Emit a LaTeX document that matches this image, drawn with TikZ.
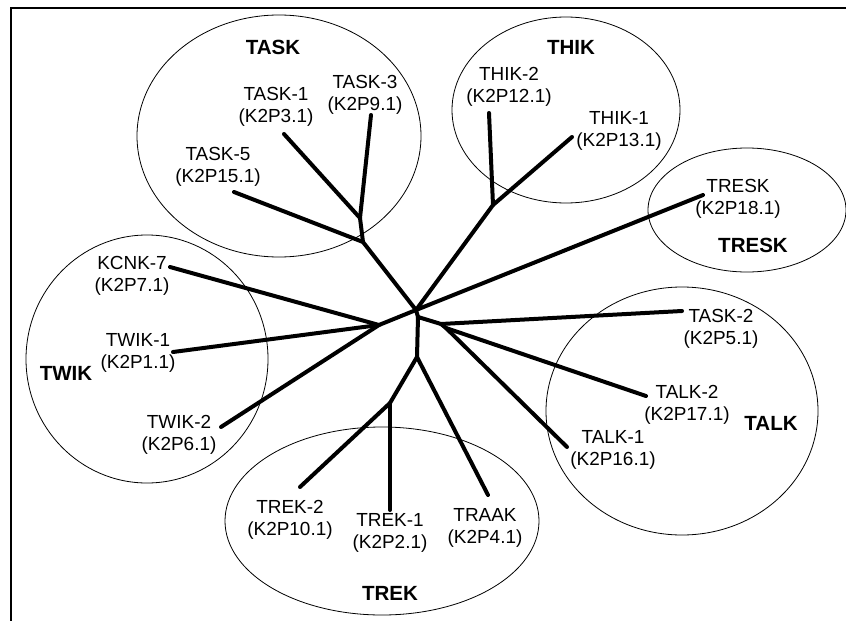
\documentclass[tikz,border=0pt]{standalone}
\usepackage{fontspec}
\setmainfont{Liberation Sans}
\usepackage{tikz}
\usetikzlibrary{calc,positioning}
\tikzset{%
	branch/.style = {line width=3pt, line cap=round, line join=round},
	family/.style = {line width=0.6pt},
	leaf/.style   = {align=center, inner sep=0pt, font=\fontsize{14.2}{16.5}\selectfont},
	clade/.style  = {inner sep=0pt, font=\fontsize{15.4}{18}\selectfont\bfseries},
	frame/.style  = {line width=1.5pt},
}
\begin{document}
\begin{tikzpicture}[x=0.75pt,y=-0.75pt]
	\useasboundingbox (0,0) rectangle (846,621);
	\draw[frame] (10.5,621) -- (10.5,8) -- (846,8);  % frame
	% families
	\draw[family] (279,136) ellipse (142 and 121);  % TASK
	\draw[family] (566,110) ellipse (114 and 93);   % THIK
	\draw[family] (747,210) ellipse (99 and 62);    % TRESK
	\draw[family] (147,359) ellipse (121 and 124);  % TWIK
	\draw[family] (682,411) ellipse (136 and 124);  % TALK
	\draw[family] (382,521) ellipse (157 and 94);   % TREK
	\node[clade] (TASK)  at (273,47)  {TASK};
	\node[clade] (THIK)  at (571,47)  {THIK};
	\node[clade] (TRESK) at (753,245) {TRESK};
	\node[clade] (TWIK)  at (66,373)  {TWIK};
	\node[clade] (TALK)  at (771,423) {TALK};
	\node[clade] (TREK)  at (390,593) {TREK};
	% channels
	\node[leaf] (task1)  at (276,106.5) {TASK-1\\(K2P3.1)};
	\node[leaf] (task3)  at (365,94.5)  {TASK-3\\(K2P9.1)};
	\node[leaf] (task5)  at (218,166.5) {TASK-5\\(K2P15.1)};
	\node[leaf] (thik2)  at (509,86.5)  {THIK-2\\(K2P12.1)};
	\node[leaf] (thik1)  at (619,131)   {THIK-1\\(K2P13.1)};
	\node[leaf] (tresk)  at (738,198.5) {TRESK\\(K2P18.1)};
	\node[leaf] (kcnk7)  at (132,276)   {KCNK-7\\(K2P7.1)};
	\node[leaf] (twik1)  at (138,352.5) {TWIK-1\\(K2P1.1)};
	\node[leaf] (twik2)  at (179,435)   {TWIK-2\\(K2P6.1)};
	\node[leaf] (task2)  at (721,328.5) {TASK-2\\(K2P5.1)};
	\node[leaf] (talk2)  at (687,404.5) {TALK-2\\(K2P17.1)};
	\node[leaf] (talk1)  at (613,450)   {TALK-1\\(K2P16.1)};
	\node[leaf] (trek2)  at (290,520)   {TREK-2\\(K2P10.1)};
	\node[leaf] (trek1)  at (390,533)   {TREK-1\\(K2P2.1)};
	\node[leaf] (traak)  at (485,527.5) {TRAAK\\(K2P4.1)};
	% tree
	\coordinate (root)    at (416,310);
	\coordinate (root2)   at (418,317);
	\coordinate (j-task)  at (363,242);
	\coordinate (j-task13) at (360,218);
	\coordinate (j-thik)  at (493,205);
	\coordinate (j-twik)  at (379,325);
	\coordinate (j-talk)  at (441,324);
	\coordinate (j-talk12) at (446,328);
	\coordinate (j-trek)  at (417,357);
	\coordinate (j-trek12) at (390,403);
	\coordinate (e-task1) at (284,134);
	\coordinate (e-task3) at (371,115);
	\coordinate (e-task5) at (234,192);
	\coordinate (e-thik2) at (489,113);
	\coordinate (e-thik1) at (572,137);
	\coordinate (e-tresk) at (703,195);
	\coordinate (e-kcnk7) at (170,267);
	\coordinate (e-twik1) at (173,352);
	\coordinate (e-twik2) at (221,427);
	\coordinate (e-task2) at (682,311);
	\coordinate (e-talk2) at (646,396);
	\coordinate (e-talk1) at (567,447);
	\coordinate (e-trek2) at (300,487);
	\coordinate (e-trek1) at (390,510);
	\coordinate (e-traak) at (488,495);
	\draw[branch] (root) -- (root2);
	\draw[branch] (root) -- (j-task) -- (e-task5);
	\draw[branch] (j-task) -- (j-task13) -- (e-task1);
	\draw[branch] (j-task13) -- (e-task3);
	\draw[branch] (root) -- (j-thik) -- (e-thik2);
	\draw[branch] (j-thik) -- (e-thik1);
	\draw[branch] (root) -- (e-tresk);
	\draw[branch] (root) -- (j-twik) -- (e-twik1);
	\draw[branch] (j-twik) -- (e-kcnk7);
	\draw[branch] (j-twik) -- (e-twik2);
	\draw[branch] (root2) -- (j-talk) -- (e-task2);
	\draw[branch] (j-talk) -- (j-talk12) -- (e-talk2);
	\draw[branch] (j-talk12) -- (e-talk1);
	\draw[branch] (root2) -- (j-trek) -- (e-traak);
	\draw[branch] (j-trek) -- (j-trek12) -- (e-trek2);
	\draw[branch] (j-trek12) -- (e-trek1);
\end{tikzpicture}
\end{document}
